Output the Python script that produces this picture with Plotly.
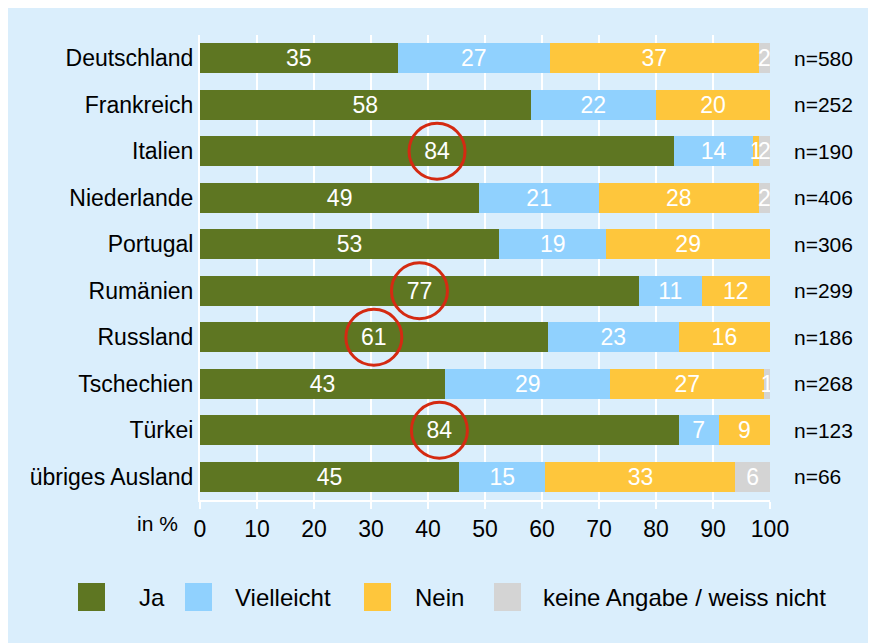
import plotly.graph_objects as go

categories = ["Deutschland", "Frankreich", "Italien", "Niederlande", "Portugal",
              "Rumänien", "Russland", "Tschechien", "Türkei", "übriges Ausland"]
ja = [35, 58, 84, 49, 53, 77, 61, 43, 84, 45]
vielleicht = [27, 22, 14, 21, 19, 11, 23, 29, 7, 15]
nein = [37, 20, 1, 28, 29, 12, 16, 27, 9, 33]
keine = [2, 0, 2, 2, 0, 0, 0, 1, 0, 6]
n_labels = ["n=580", "n=252", "n=190", "n=406", "n=306", "n=299", "n=186", "n=268", "n=123", "n=66"]
highlighted = ["Italien", "Rumänien", "Russland", "Türkei"]
series_names = ["Ja", "Vielleicht", "Nein", "keine Angabe / weiss nicht"]
x_ticks = [0, 10, 20, 30, 40, 50, 60, 70, 80, 90, 100]

colors = ["#5E7622", "#90D1FE", "#FEC63C", "#D4D4D4"]
bg = "#DAEEFC"
font = "Liberation Sans, Arial, sans-serif"

series = [ja, vielleicht, nein, keine]
totals = [sum(vals) for vals in zip(*series)]

fig = go.Figure()
for name, vals, col in zip(series_names, series, colors):
    # rounded percentages are shown; bar lengths are scaled so every row fills 100 %
    fig.add_trace(go.Bar(
        y=categories, x=[v / t * 100 for v, t in zip(vals, totals)],
        name=name, orientation="h",
        marker=dict(color=col, line=dict(width=0)),
        text=[str(v) if v > 0 else "" for v in vals],
        textposition="inside", insidetextanchor="middle",
        constraintext="none", textangle=0,
        textfont=dict(color="white", size=23, family=font),
        showlegend=False, hoverinfo="skip",
    ))

OFF = 8  # page offset of the figure
W, H = 876, 643
L, R, T, B = 192, 114, 27, 151
pw = W - L - R
ph = H - T - B

def px_to_paper_x(px):
    return (px - OFF - L) / pw

def px_to_paper_y(py):
    return (H - B - (py - OFF)) / ph

# red circles around highlighted Ja values
for c, v, t in zip(categories, ja, totals):
    if c in highlighted:
        fig.add_shape(type="circle", xref="x", yref="y",
                      xsizemode="pixel", ysizemode="pixel",
                      xanchor=v / t * 50, yanchor=c,
                      x0=-28, x1=28, y0=-28, y1=28,
                      line=dict(color="#D42A12", width=3), layer="above")

# n labels
for c, nl in zip(categories, n_labels):
    fig.add_annotation(x=px_to_paper_x(792), xref="paper", y=c, yref="y",
                       text=nl, showarrow=False, xanchor="left",
                       font=dict(size=21, color="black", family=font))

# "in %" label
fig.add_annotation(x=px_to_paper_x(180), xref="paper", y=px_to_paper_y(523), yref="paper",
                   text="in %", showarrow=False, xanchor="right", yanchor="middle",
                   font=dict(size=21, color="black", family=font))

# manual legend
leg_items = [(78, 137), (185, 233), (364, 413), (494, 541)]
for (sx, tx), name, col in zip(leg_items, series_names, colors):
    fig.add_shape(type="rect", xref="paper", yref="paper",
                  x0=px_to_paper_x(sx), x1=px_to_paper_x(sx + 27),
                  y0=px_to_paper_y(611), y1=px_to_paper_y(583),
                  fillcolor=col, line=dict(width=0))
    fig.add_annotation(x=px_to_paper_x(tx), xref="paper", y=px_to_paper_y(597), yref="paper",
                       text=name, showarrow=False, xanchor="left", yanchor="middle",
                       font=dict(size=24, color="black", family=font))

fig.update_layout(
    barmode="stack", bargap=0.36,
    width=W, height=H,
    margin=dict(l=L, r=R, t=T, b=B, pad=0),
    paper_bgcolor=bg, plot_bgcolor=bg,
    font=dict(family=font, size=22, color="black"),
)
fig.update_xaxes(range=[0, 100], tickvals=x_ticks, ticktext=[str(t) for t in x_ticks],
                 showgrid=True, gridcolor="white", gridwidth=1.5,
                 zeroline=False, showline=True, linecolor="white", linewidth=2,
                 ticks="outside", tickcolor="white", ticklen=7, tickwidth=1.5,
                 tickfont=dict(size=23, family=font), fixedrange=True)
fig.update_yaxes(categoryorder="array", categoryarray=categories, autorange="reversed",
                 showgrid=False, zeroline=False, showline=True, linecolor="white", linewidth=2,
                 ticks="", ticklabelstandoff=0, tickfont=dict(size=23, family=font))

fig.write_html("out.html")
